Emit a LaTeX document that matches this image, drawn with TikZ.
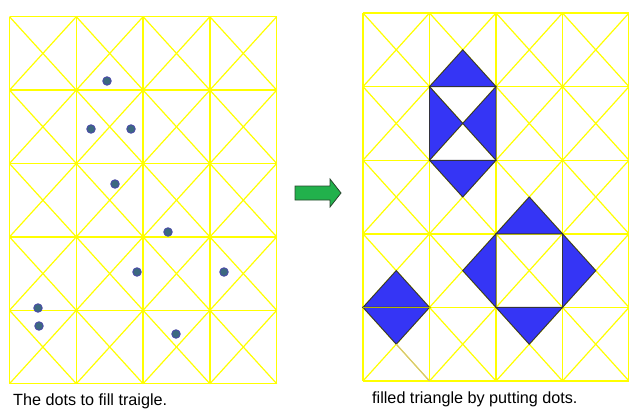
\documentclass[tikz,border=0pt]{standalone}
\usepackage{fontspec}
\setmainfont{Liberation Sans}
\definecolor{gridyellow}{RGB}{255,255,0}
\definecolor{triblue}{RGB}{53,53,245}
\definecolor{triedge}{RGB}{50,50,60}
\definecolor{dotfill}{RGB}{60,105,128}
\definecolor{dotedge}{RGB}{75,75,168}
\definecolor{arrowgreen}{RGB}{34,177,76}
\definecolor{arrowedge}{RGB}{40,70,45}
\definecolor{tanline}{RGB}{210,190,130}
\begin{document}
\begin{tikzpicture}[x=1pt,y=-1pt,
  gridline/.style={draw=gridyellow,line width=1.4pt},
  diagline/.style={draw=gridyellow,line width=1.2pt},
  bluetri/.style={fill=triblue,draw=triedge,line width=0.9pt,line join=miter},
  dotmark/.style={circle,fill=dotfill,draw=dotedge,line width=0.9pt,minimum size=8.5pt,inner sep=0pt},
  greenarrow/.style={fill=arrowgreen,draw=arrowedge,line width=0.8pt},
  caption/.style={anchor=base west,inner sep=0pt,font=\fontsize{16.2}{18}\selectfont}]
\useasboundingbox (0,0) rectangle (629,409);
% left grid
\begin{scope}[shift={(9.5,16.7)},x=66.8pt,y=-73.4pt]
  \foreach \c in {0,...,3} \foreach \r in {0,...,4} {
    \draw[diagline] (\c,\r) -- (\c+1,\r+1);
    \draw[diagline] (\c+1,\r) -- (\c,\r+1);
  }
  \foreach \c in {0,...,4} \draw[gridline] (\c,0) -- (\c,5);
  \foreach \r in {0,...,5} \draw[gridline] (0,\r) -- (4,\r);
\end{scope}
% dots
\node[dotmark] (d1) at (107,81) {};
\node[dotmark] (d2) at (91,129) {};
\node[dotmark] (d3) at (131,129) {};
\node[dotmark] (d4) at (115,184) {};
\node[dotmark] (d5) at (168,232) {};
\node[dotmark] (d6) at (137,272) {};
\node[dotmark] (d7) at (224,272) {};
\node[dotmark] (d8) at (38,308) {};
\node[dotmark] (d9) at (39,326) {};
\node[dotmark] (d10) at (176,334) {};
% arrow
\draw[greenarrow] (295,186) -- (330,186) -- (330,179) -- (341,193) -- (330,207) -- (330,200) -- (295,200) -- cycle;
% right grid
\begin{scope}[shift={(363,13)},x=66.5pt,y=-73.6pt]
  \foreach \c in {0,...,3} \foreach \r in {0,...,4} {
    \draw[diagline] (\c,\r) -- (\c+1,\r+1);
    \draw[diagline] (\c+1,\r) -- (\c,\r+1);
  }
  \foreach \c in {0,...,4} \draw[gridline] (\c,0) -- (\c,5);
  \foreach \r in {0,...,5} \draw[gridline] (0,\r) -- (4,\r);
  \draw[bluetri] (1,1) -- (2,1) -- (1.5,0.5) -- cycle;
  \draw[bluetri] (1,1) -- (1,2) -- (1.5,1.5) -- cycle;
  \draw[bluetri] (2,1) -- (2,2) -- (1.5,1.5) -- cycle;
  \draw[bluetri] (1,2) -- (2,2) -- (1.5,2.5) -- cycle;
  \draw[triedge,line width=0.9pt] (1,1) -- (2,1) (1,2) -- (2,2);
  \draw[bluetri] (2,3) -- (3,3) -- (2.5,2.5) -- cycle;
  \draw[bluetri] (2,3) -- (2,4) -- (1.5,3.5) -- cycle;
  \draw[bluetri] (3,3) -- (3,4) -- (3.5,3.5) -- cycle;
  \draw[bluetri] (2,4) -- (3,4) -- (2.5,4.5) -- cycle;
  \draw[bluetri] (0,4) -- (1,4) -- (0.5,3.5) -- cycle;
  \draw[bluetri] (0,4) -- (1,4) -- (0.5,4.5) -- cycle;
  \draw[draw=gridyellow!70!black,line width=0.5pt] (0,4) -- (1,4);
  \draw[draw=tanline,line width=1pt] (0.5,4.5) -- (1,5);
\end{scope}
% captions
\node[caption] (capl) at (13,405) {The dots to fill traigle.};
\node[caption] (capr) at (372,403) {filled triangle by putting dots.};
\end{tikzpicture}
\end{document}
